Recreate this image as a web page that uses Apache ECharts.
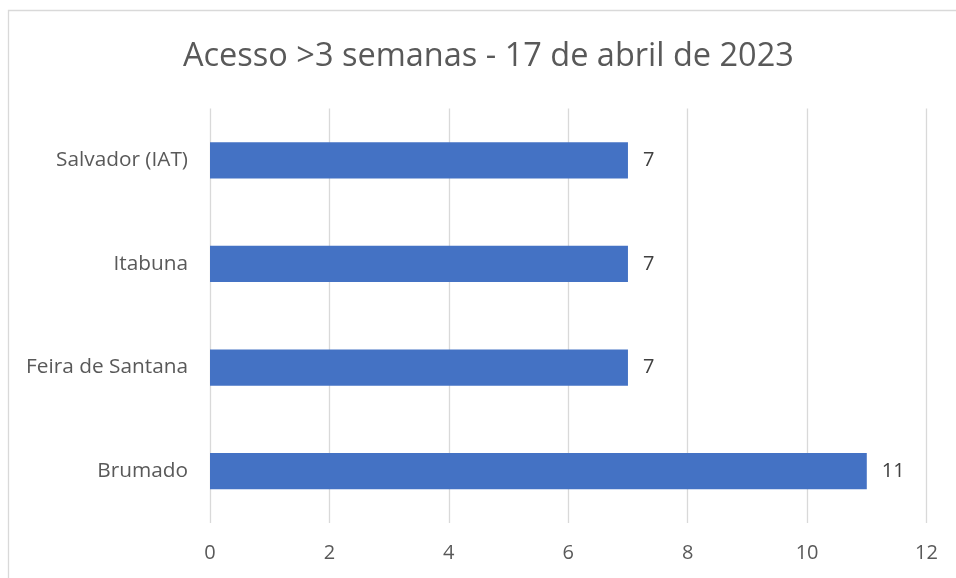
<!DOCTYPE html>
<html><head><meta charset="utf-8">
<script src="https://cdn.jsdelivr.net/npm/echarts@6/dist/echarts.min.js"></script>
<style>html,body{margin:0;padding:0;background:#fff}#c{width:956px;height:578px}</style>
</head><body><div id="c"></div>
<script>
const titleText = 'Acesso >3 semanas - 17 de abril de 2023';
const categories = ['Brumado', 'Feira de Santana', 'Itabuna', 'Salvador (IAT)'];
const values = [11, 7, 7, 7];
const xTicks = [0, 2, 4, 6, 8, 10, 12];

const chart = echarts.init(document.getElementById('c'));
const FONT = '"Open Sans", sans-serif';
chart.setOption({
  backgroundColor: '#fff',
  animation: false,
  graphic: [{
    type: 'rect', shape: {x: 8.5, y: 10.5, width: 960, height: 600},
    style: {fill: 'none', stroke: '#d9d9d9', lineWidth: 1.3}, silent: true
  }],
  title: {
    text: titleText, left: 178, top: 35,
    textStyle: {fontFamily: FONT, fontSize: 32.5, fontWeight: 'normal', color: '#595959'}
  },
  grid: {left: 210, right: 29.5, top: 108.5, bottom: 55, containLabel: false},
  xAxis: {
    type: 'value', min: xTicks[0], max: xTicks[xTicks.length - 1], interval: 2,
    axisLine: {show: false}, axisTick: {show: false},
    splitLine: {lineStyle: {color: '#d9d9d9', width: 1.3}},
    axisLabel: {fontFamily: FONT, fontSize: 20, color: '#595959', margin: 20}
  },
  yAxis: {
    type: 'category', data: categories,
    axisLine: {show: false}, axisTick: {show: false},
    axisLabel: {fontFamily: FONT, fontSize: 20.8, color: '#595959', margin: 22}
  },
  series: [{
    type: 'bar', data: values, barCategoryGap: '65%',
    itemStyle: {color: '#4472c4'},
    label: {show: true, position: 'right', distance: 15, fontFamily: FONT, fontSize: 20, color: '#404040'}
  }]
});
</script></body></html>
